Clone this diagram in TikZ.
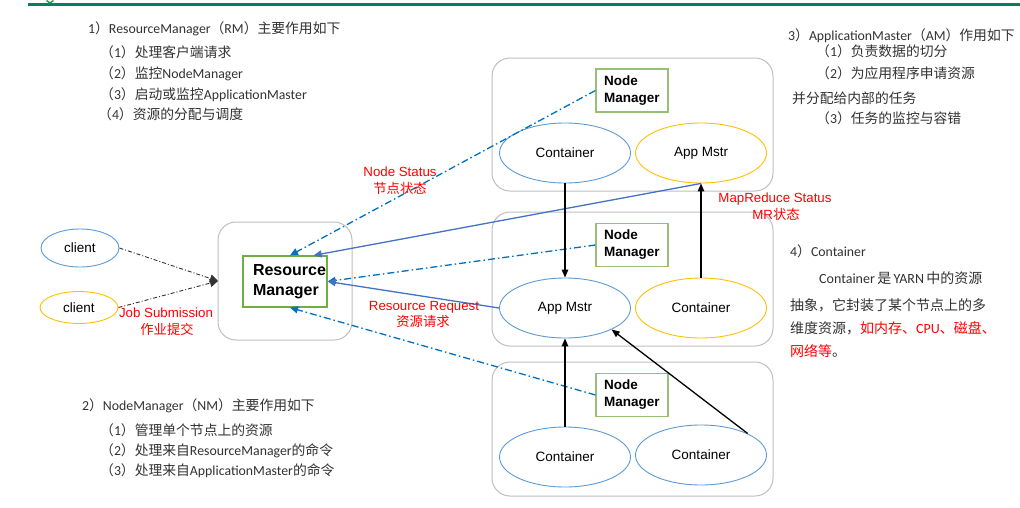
\documentclass[tikz,border=0pt]{standalone}
\usepackage{fontspec}
\setmainfont{Carlito}
\newfontfamily\cjk{Noto Sans CJK SC}
\newfontfamily\arialf{Liberation Sans}
\usetikzlibrary{arrows.meta,shapes.geometric,calc}
\definecolor{boxgray}{RGB}{191,191,191}
\definecolor{ellblue}{RGB}{91,155,213}
\definecolor{ellorange}{RGB}{255,192,0}
\definecolor{nmgreen}{RGB}{112,173,71}
\definecolor{dashblue}{RGB}{0,112,192}
\definecolor{lineblue}{RGB}{68,114,196}
\definecolor{topgreen}{RGB}{0,128,96}
\definecolor{txtgray}{RGB}{50,50,50}
\newcommand\zh[1]{{\cjk #1}}
\begin{document}
\begin{tikzpicture}[x=1pt,y=-1pt,
  groupbox/.style={draw=boxgray, line width=1pt, rounded corners=18pt},
  nmbox/.style={draw=nmgreen!75, line width=1.2pt, minimum width=72pt, minimum height=43pt,
    inner xsep=0pt, inner ysep=0pt, text width=56pt, align=left,
    font=\arialf\bfseries\fontsize{13.5}{17}\selectfont},
  ell/.style={draw=#1, line width=0.9pt, ellipse, minimum width=131pt, minimum height=60pt,
    inner sep=0pt, font=\arialf\fontsize{13.5}{16}\selectfont},
  cli/.style={draw=#1, line width=0.9pt, ellipse, minimum width=78pt, inner sep=0pt,
    font=\arialf\fontsize{13.5}{16}\selectfont},
  txt/.style={anchor=west, inner sep=0pt, text=txtgray, text height=10pt, text depth=3pt,
    font=\fontsize{13.8}{15}\selectfont},
  redlbl/.style={inner sep=0pt, text=red, text height=10pt, text depth=3pt,
    font=\arialf\fontsize{13.3}{15}\selectfont},
  dashconn/.style={draw=dashblue, line width=1.3pt, dash pattern=on 7pt off 3pt on 1.5pt off 3pt,
    -{Triangle[length=8pt,width=7pt]}},
  solconn/.style={draw=lineblue, line width=1.3pt, -{Triangle[length=8pt,width=7pt]}},
  blkconn/.style={draw=black, line width=1.3pt, -{Triangle[length=8pt,width=6.5pt]}},
  cliconn/.style={draw=black!80, line width=0.9pt, dash pattern=on 4pt off 2pt on 1pt off 2pt,
    -{Triangle[length=8pt,width=8pt]}}
]
\useasboundingbox (0,0) rectangle (1020,507);
\fill[white] (0,0) rectangle (1020,507);

% top decoration
\draw[topgreen, line width=2.8pt] (28,4.6) -- (1020,4.6);
\draw[topgreen!70!green, line width=1.4pt] (46.5,0.5) -- (50,3) -- (53.5,0.5);

% group boxes
\draw[groupbox] (492,58) rectangle (773,191);
\draw[groupbox] (492,212) rectangle (773,346);
\draw[groupbox] (492,362) rectangle (773,496);
\draw[groupbox] (218,222) rectangle (352,340);

% resource manager
\node[draw=nmgreen, line width=1.2pt, minimum width=84pt, minimum height=51pt, inner sep=0pt] (rm) at (285,281.5) {};
\node[inner sep=0pt, text width=73pt, align=left, font=\arialf\bfseries\fontsize{16}{20}\selectfont] (rmt) at (289.5,281.5) {Resource\\Manager};

% node managers
\node[nmbox] (nm1) at (632,90.5) {Node\\Manager};
\node[nmbox] (nm2) at (632,245) {Node\\Manager};
\node[nmbox] (nm3) at (632,395) {Node\\Manager};

% ellipses
\node[ell=ellblue] (c1) at (565,153) {Container};
\node[ell=ellorange] (am1) at (701,153) {App Mstr};
\node[ell=ellblue] (am2) at (565,308) {App Mstr};
\node[ell=ellorange] (c2) at (701,308) {Container};
\node[ell=ellblue] (c3) at (565,457) {Container};
\node[ell=ellblue] (c4) at (701,455) {Container};

% clients
\node[cli=ellblue, minimum height=38pt] (cl1) at (80,248) {client};
\node[cli=ellorange, minimum height=32pt] (cl2) at (79,307.5) {client};
\coordinate (js) at (218,281);
\draw[cliconn] (cl1.east) -- (js);
\draw[cliconn] (cl2.east) -- (js);

% connectors to RM
\draw[dashconn] (nm1.west) -- ($(rm.north)+(5,0)$);
\draw[solconn] (am1.south) -- ($(rm.north east)+(-14,0)$);
\draw[dashconn] (nm2.west) -- (rm.east);
\draw[solconn] (am2.west) -- (rm.east);
\draw[dashconn] (nm3.west) -- ($(rm.south)+(5,0)$);

% black arrows
\draw[blkconn] (c1.south) -- (am2.north);
\draw[blkconn] (c2.north) -- (am1.south);
\draw[blkconn] (c3.north) -- (am2.south);
\draw[blkconn] (c4.north east) -- (am2.south east);

% red labels
\node[redlbl] (ns1) at (400,173) {Node Status};
\node[redlbl] (ns2) at (400,190) {\cjk 节点状态};
\node[redlbl] (jb1) at (166,314) {Job Submission};
\node[redlbl] (jb2) at (167,331) {\cjk 作业提交};
\node[redlbl] (rr1) at (424,307) {Resource Request};
\node[redlbl] (rr2) at (423,323) {\cjk 资源请求};
\node[redlbl] (mr1) at (775,199) {MapReduce Status};
\node[redlbl] (mr2) at (776,216) {MR\zh{状态}};

% block 1
\node[txt] (t11) at (88,30) {1\zh{）}ResourceManager\zh{（}RM\zh{）主要作用如下}};
\node[txt] (t12) at (100,54) {\zh{（}1\zh{）处理客户端请求}};
\node[txt] (t13) at (100,75) {\zh{（}2\zh{）监控}NodeManager};
\node[txt] (t14) at (100,96) {\zh{（}3\zh{）启动或监控}ApplicationMaster};
\node[txt] (t15) at (98,116) {\zh{（}4\zh{）资源的分配与调度}};

% block 2
\node[txt] (t21) at (82,407) {2\zh{）}NodeManager\zh{（}NM\zh{）主要作用如下}};
\node[txt] (t22) at (100,432) {\zh{（}1\zh{）管理单个节点上的资源}};
\node[txt] (t23) at (100,452) {\zh{（}2\zh{）处理来自}ResourceManager\zh{的命令}};
\node[txt] (t24) at (100,472) {\zh{（}3\zh{）处理来自}ApplicationMaster\zh{的命令}};

% block 3
\node[txt] (t31) at (788,37) {3\zh{）}ApplicationMaster\zh{（}AM\zh{）作用如下}};
\node[txt] (t32) at (816,53) {\zh{（}1\zh{）负责数据的切分}};
\node[txt] (t33) at (816,75) {\zh{（}2\zh{）为应用程序申请资源}};
\node[txt] (t34) at (792,100) {\zh{并分配给内部的任务}};
\node[txt] (t35) at (816,120) {\zh{（}3\zh{）任务的监控与容错}};

% block 4
\node[txt] (t41) at (790,253) {4\zh{）}Container};
\node[txt, font=\fontsize{14}{15}\selectfont] (t42) at (819,280) {Container\,\zh{是}\,YARN\,\zh{中的资源}};
\node[txt, font=\fontsize{14}{15}\selectfont] (t43) at (790,307) {\zh{抽象，它封装了某个节点上的多}};
\node[txt, font=\fontsize{14}{15}\selectfont] (t44) at (790,330) {\zh{维度资源，}\textcolor{red}{\zh{如内存、}CPU\zh{、磁盘、}}};
\node[txt, font=\fontsize{14}{15}\selectfont] (t45) at (790,353) {\textcolor{red}{\zh{网络等}}\zh{。}};
\end{tikzpicture}
\end{document}
